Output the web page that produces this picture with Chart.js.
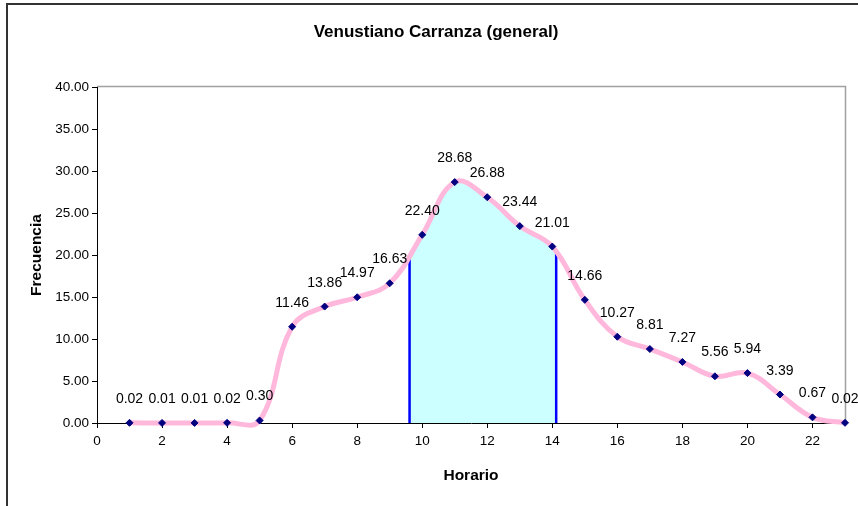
<!DOCTYPE html>
<html>
<head>
<meta charset="utf-8">
<script src="https://cdn.jsdelivr.net/npm/chart.js@4/dist/chart.umd.min.js"></script>
<style>
  html, body { margin: 0; padding: 0; background: #ffffff; }
  #wrap { width: 858px; height: 506px; }
</style>
</head>
<body>
<div id="wrap"><canvas id="chart" width="858" height="506"></canvas></div>
<script>
// Hourly frequency for Venustiano Carranza
const hours = [1, 2, 3, 4, 5, 6, 7, 8, 9, 10, 11, 12, 13, 14, 15, 16, 17, 18, 19, 20, 21, 22, 23];
const frequencies = [0.02, 0.01, 0.01, 0.02, 0.30, 11.46, 13.86, 14.97, 16.63, 22.40, 28.68, 26.88,
                     23.44, 21.01, 14.66, 10.27, 8.81, 7.27, 5.56, 5.94, 3.39, 0.67, 0.02];
const xTickValues = [0, 2, 4, 6, 8, 10, 12, 14, 16, 18, 20, 22];
const yTickValues = [0, 5, 10, 15, 20, 25, 30, 35, 40];
// Hour interval highlighted under the curve
const shadedRange = [9.58, 14.15];

const FONT = '"Liberation Sans", Arial, sans-serif';

// Outer frame and the grey top/right edges of the plot area
const framePlugin = {
  id: 'frame',
  beforeDraw(chart) {
    const { ctx, chartArea: a } = chart;
    ctx.save();
    ctx.strokeStyle = '#333333';
    ctx.lineWidth = 2;
    ctx.beginPath();
    ctx.moveTo(7, 506);
    ctx.lineTo(7, 4);
    ctx.lineTo(858, 4);
    ctx.stroke();
    ctx.strokeStyle = '#a0a0a0';
    ctx.lineWidth = 1.5;
    ctx.beginPath();
    ctx.moveTo(a.left, a.top - 0.5);
    ctx.lineTo(a.right + 0.5, a.top - 0.5);
    ctx.lineTo(a.right + 0.5, a.bottom);
    ctx.stroke();
    ctx.restore();
  }
};

// Area under the smoothed curve inside shadedRange, bounded by blue verticals
const shadePlugin = {
  id: 'shade',
  beforeDatasetsDraw(chart) {
    const meta = chart.getDatasetMeta(0);
    const line = meta.dataset;
    const pts = meta.data;
    const { ctx, chartArea: a, scales: { x, y } } = chart;
    if (!line || !pts.length) return;
    line.updateControlPoints(a, 'x');
    const x1 = x.getPixelForValue(shadedRange[0]);
    const x2 = x.getPixelForValue(shadedRange[1]);
    const y0 = y.getPixelForValue(0);
    ctx.save();
    ctx.beginPath();
    line.path(ctx);
    ctx.lineTo(pts[pts.length - 1].x, y0);
    ctx.lineTo(pts[0].x, y0);
    ctx.closePath();
    ctx.clip();
    ctx.fillStyle = '#ccffff';
    ctx.fillRect(x1, a.top, x2 - x1, y0 - a.top);
    ctx.strokeStyle = '#0000ff';
    ctx.lineWidth = 2.5;
    ctx.beginPath();
    ctx.moveTo(x1 + 1, y0);
    ctx.lineTo(x1 + 1, a.top);
    ctx.moveTo(x2 - 1, y0);
    ctx.lineTo(x2 - 1, a.top);
    ctx.stroke();
    ctx.restore();
  }
};

// Value labels above each point
const valueLabelPlugin = {
  id: 'valueLabels',
  afterDatasetsDraw(chart) {
    const meta = chart.getDatasetMeta(0);
    const ds = chart.data.datasets[0];
    const { ctx } = chart;
    ctx.save();
    ctx.font = '14px ' + FONT;
    ctx.fillStyle = '#000000';
    ctx.textAlign = 'center';
    ctx.textBaseline = 'alphabetic';
    meta.data.forEach((pt, i) => {
      ctx.fillText(ds.data[i].y.toFixed(2), pt.x, pt.y - 20);
    });
    ctx.restore();
  }
};

new Chart(document.getElementById('chart'), {
  type: 'line',
  data: {
    datasets: [{
      data: hours.map((h, i) => ({ x: h, y: frequencies[i] })),
      borderColor: '#ffb8dc',
      borderWidth: 5,
      tension: 0.4,
      fill: false,
      clip: false,
      pointStyle: 'rectRot',
      pointRadius: 3.5,
      pointBackgroundColor: '#000080',
      pointBorderColor: '#000080',
      pointBorderWidth: 1
    }]
  },
  options: {
    responsive: false,
    animation: false,
    devicePixelRatio: 1,
    layout: { padding: { left: 27, right: 13, top: 0, bottom: 0 } },
    elements: { line: { capBezierPoints: false } },
    plugins: {
      legend: { display: false },
      tooltip: { enabled: false },
      title: {
        display: true,
        text: 'Venustiano Carranza (general)',
        color: '#000000',
        font: { family: FONT, size: 17, weight: 'bold' },
        padding: { top: 21.8, bottom: 44.8 }
      }
    },
    scales: {
      x: {
        type: 'linear',
        min: 0,
        max: 23,
        afterBuildTicks: (s) => { s.ticks = xTickValues.map(v => ({ value: v })); },
        afterFit: (s) => { s.height = 83; },
        ticks: {
          color: '#000000',
          font: { family: FONT, size: 13.5 },
          padding: 5,
          maxRotation: 0,
          autoSkip: false,
          callback: (v) => String(v)
        },
        grid: { drawOnChartArea: false, drawTicks: true, tickLength: 5, color: '#000000' },
        border: { color: '#000000', width: 1 },
        title: {
          display: true,
          text: 'Horario',
          color: '#000000',
          font: { family: FONT, size: 15.5, weight: 'bold' },
          padding: { top: 0, bottom: 20.7 }
        }
      },
      y: {
        min: 0,
        max: 40,
        afterBuildTicks: (s) => { s.ticks = yTickValues.map(v => ({ value: v })); },
        afterFit: (s) => { s.width = 70; },
        ticks: {
          color: '#000000',
          font: { family: FONT, size: 13.5 },
          padding: 3,
          autoSkip: false,
          callback: (v) => Number(v).toFixed(2)
        },
        grid: { drawOnChartArea: false, drawTicks: true, tickLength: 5, color: '#000000' },
        border: { color: '#000000', width: 1 },
        title: {
          display: true,
          text: 'Frecuencia',
          color: '#000000',
          font: { family: FONT, size: 15.5, weight: 'bold' },
          padding: { top: 0, bottom: 0 }
        }
      }
    }
  },
  plugins: [framePlugin, shadePlugin, valueLabelPlugin]
});
</script>
</body>
</html>
